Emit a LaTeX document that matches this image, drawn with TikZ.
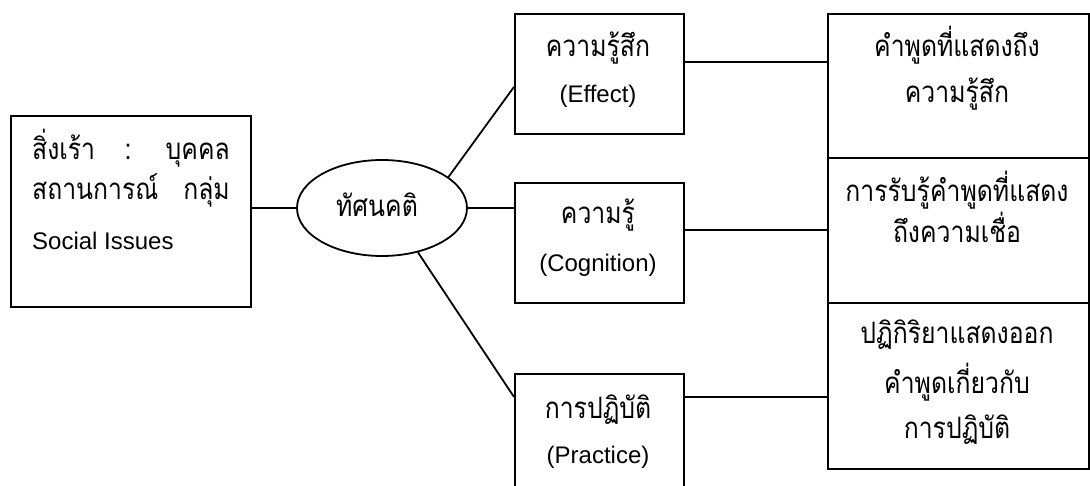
\documentclass[tikz,border=0pt]{standalone}
\usepackage{fontspec}
\setmainfont{Liberation Sans}
\newfontfamily\thaifont[Script=Thai, FakeStretch=0.84]{Loma}
\usetikzlibrary{shapes.geometric}
\tikzset{
  boxnode/.style={draw, line width=1.8pt, rectangle, inner sep=0pt, anchor=north west},
  ovalnode/.style={draw, line width=1.8pt, ellipse, inner sep=0pt, minimum width=170pt, minimum height=96pt},
  conn/.style={line width=1.8pt},
  th/.style={font=\thaifont\fontsize{29.5}{34}\selectfont, anchor=base, inner sep=0pt},
  en/.style={font=\fontsize{24}{28}\selectfont, anchor=base, inner sep=0pt},
}
\begin{document}
\begin{tikzpicture}[x=1pt, y=-1pt]
\useasboundingbox (0,0) rectangle (1090,486);
\clip (0,0) rectangle (1090,486);
\fill[white] (0,0) rectangle (1090,486);
% boxes
\node[boxnode, minimum width=240pt, minimum height=191pt] (stim) at (10,115) {};
\node[ovalnode] (att) at (382,208) {};
\node[boxnode, minimum width=169pt, minimum height=120pt] (eff) at (514,13) {};
\node[boxnode, minimum width=169pt, minimum height=120pt] (cog) at (514,182) {};
\node[boxnode, minimum width=169pt, minimum height=160pt] (prac) at (514,373) {};
\node[boxnode, minimum width=261pt, minimum height=144pt] (rb1) at (827,13) {};
\node[boxnode, minimum width=261pt, minimum height=145pt] (rb2) at (827,157) {};
\node[boxnode, minimum width=261pt, minimum height=166pt] (rb3) at (827,302) {};
% texts
\node[th, anchor=base west] (s1a) at (32,160) {สิ่งเร้า};
\node[th] (s1b) at (128,160) {:};
\node[th, anchor=base east] (s1c) at (230,160) {บุคคล};
\node[th, anchor=base west] (s2a) at (32,200) {สถานการณ์};
\node[th, anchor=base east] (s2b) at (230,200) {กลุ่ม};
\node[en, anchor=base west] (s3) at (32,250) {Social Issues};
\node[th] (attl) at (377,217) {ทัศนคติ};
\node[th] (effa) at (598,57) {ความรู้สึก};
\node[en] (effb) at (598,103) {(Effect)};
\node[th] (coga) at (598,224) {ความรู้};
\node[en] (cogb) at (598,272) {(Cognition)};
\node[th] (praca) at (598,418) {การปฏิบัติ};
\node[en] (pracb) at (598,463) {(Practice)};
\node[th] (r1a) at (957,57) {คำพูดที่แสดงถึง};
\node[th] (r1b) at (957,103) {ความรู้สึก};
\node[th] (r2a) at (957,202) {การรับรู้คำพูดที่แสดง};
\node[th] (r2b) at (957,243) {ถึงความเชื่อ};
\node[th] (r3a) at (957,344) {ปฏิกิริยาแสดงออก};
\node[th] (r3b) at (957,393) {คำพูดเกี่ยวกับ};
\node[th] (r3c) at (957,438) {การปฏิบัติ};
% connectors
\draw[conn] (stim.east |- att.west) -- (att.west);
\draw[conn] (att.east) -- (att.east -| cog.west);
\draw[conn] (att.25) -- ([yshift=-13pt]eff.west);
\draw[conn] (att.-51) -- ([yshift=-24pt]prac.north west);
\draw[conn] ([yshift=12pt]eff.east) -- ([yshift=12pt]eff.east -| rb1.west);
\draw[conn] ([yshift=13pt]cog.east) -- ([yshift=13pt]cog.east -| rb2.west);
\draw[conn] ([yshift=-24pt]prac.north east) -- ([yshift=-24pt]prac.north east -| rb3.west);
\end{tikzpicture}
\end{document}
